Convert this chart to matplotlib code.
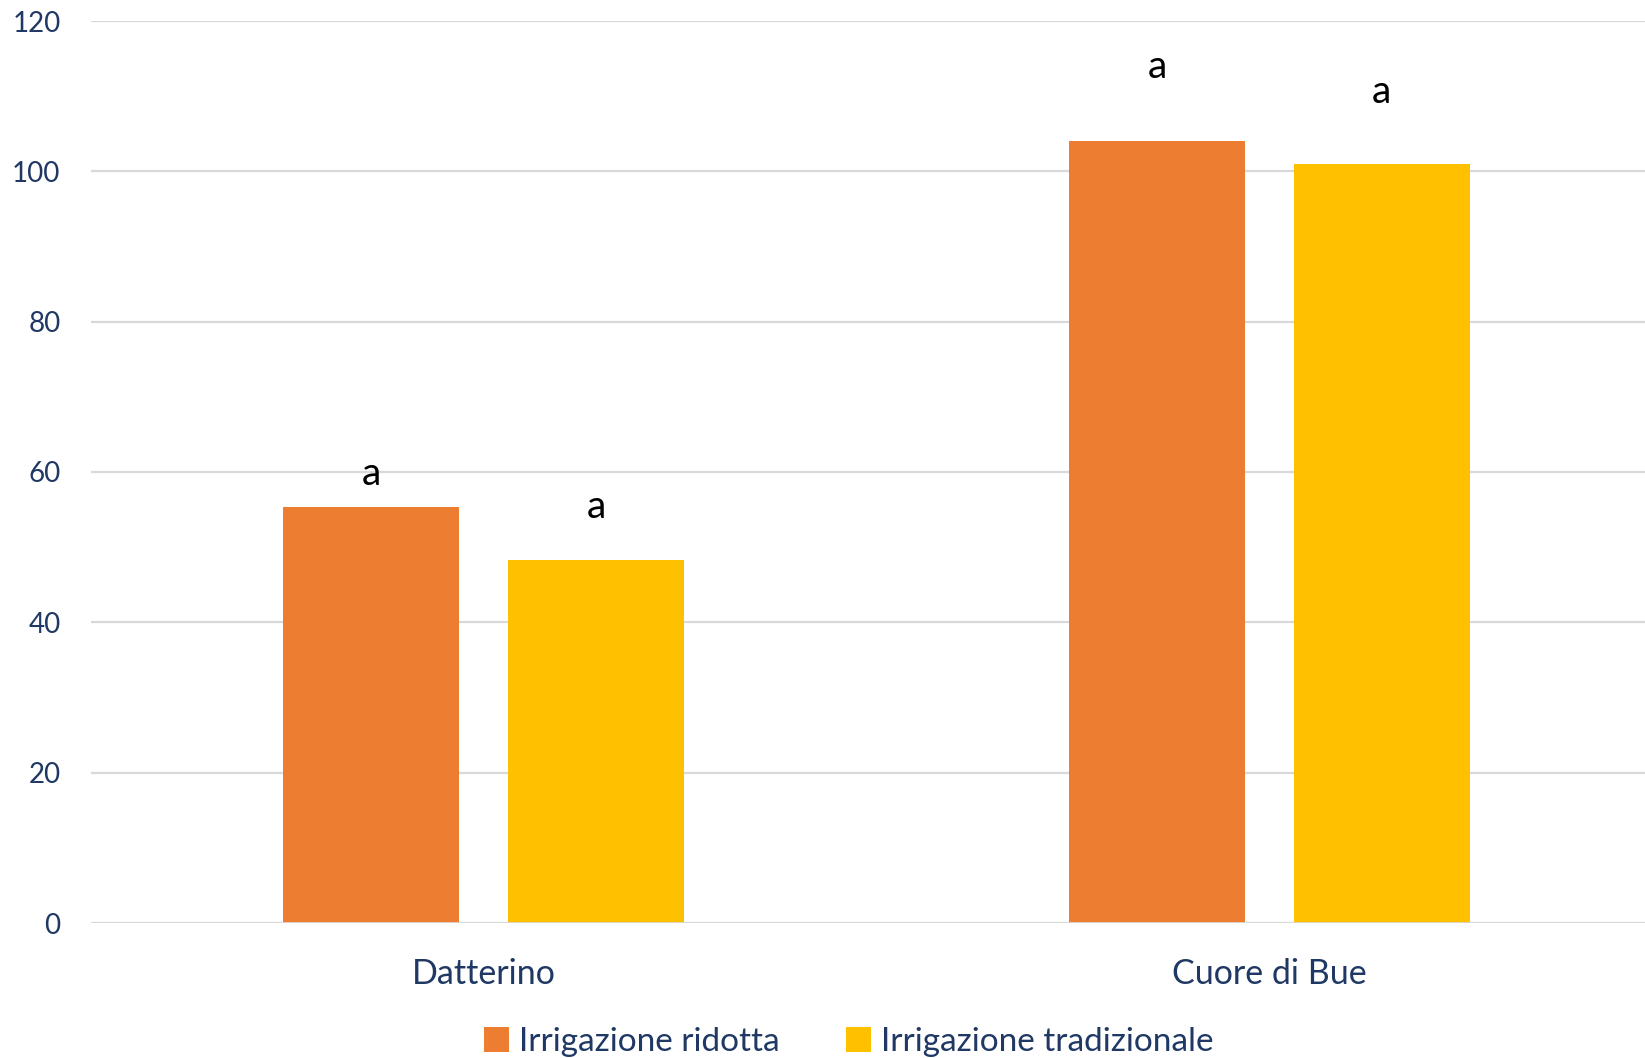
import numpy as np
import matplotlib.pyplot as plt

categories = ["Datterino", "Cuore di Bue"]
series_names = ["Irrigazione ridotta", "Irrigazione tradizionale"]
ridotta = [55.4, 104.0]
tradizionale = [48.3, 101.0]
letters_ridotta = ["a", "a"]
letters_tradizionale = ["a", "a"]
letter_y_ridotta = [59.7, 113.9]
letter_y_tradizionale = [55.4, 110.6]
yticks = [0, 20, 40, 60, 80, 100, 120]

plt.rcParams['font.family'] = ['Lato', 'DejaVu Sans']
navy = "#1F3864"
orange = "#ED7D31"
yellow = "#FFC000"

W, H = 1645, 1058
fig = plt.figure(figsize=(W / 100, H / 100), dpi=100)
# plot area runs a bit past the right edge (the source was cropped)
ax = fig.add_axes([91 / W, 1 - 923 / H, 1571 / W, (923 - 21) / H])

x = np.arange(len(categories))
w = 0.224
off = 0.143
ax.bar(x - off, ridotta, w, color=orange, label=series_names[0], zorder=3)
ax.bar(x + off, tradizionale, w, color=yellow, label=series_names[1], zorder=3)

for i in range(len(categories)):
    ax.text(x[i] - off, letter_y_ridotta[i], letters_ridotta[i], ha='center', va='center',
            fontsize=28, color='black')
    ax.text(x[i] + off, letter_y_tradizionale[i], letters_tradizionale[i], ha='center', va='center',
            fontsize=28, color='black')

ax.set_xlim(-0.5, 1.5)
ax.set_ylim(0, 120)
ax.set_yticks(yticks)
ax.yaxis.grid(True, color="#D9D9D9", linewidth=1.6, zorder=0)
ax.set_axisbelow(True)
for s in ax.spines.values():
    s.set_visible(False)
ax.axhline(0, color="#D9D9D9", linewidth=2, zorder=4)
ax.tick_params(axis='both', length=0, colors=navy)
ax.tick_params(axis='y', pad=22, labelsize=20)
ax.tick_params(axis='x', pad=25, labelsize=24.5)
ax.set_xticks(x)
ax.set_xticklabels(categories)

leg = fig.legend(loc='center', bbox_to_anchor=(849 / W, 1 - 1042 / H), ncol=2,
                 frameon=False, fontsize=24, handlelength=0.75, handleheight=0.75,
                 handletextpad=0.3, columnspacing=2.0)
for t in leg.get_texts():
    t.set_color(navy)

fig.savefig("out.png", dpi=100)
